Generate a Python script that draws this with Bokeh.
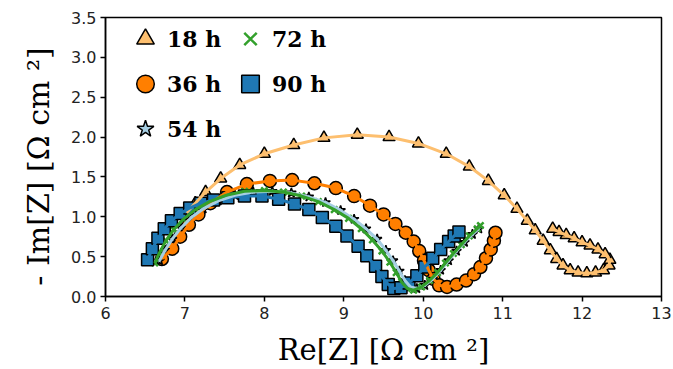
from bokeh.plotting import figure
from bokeh.models import Legend, LegendItem, FixedTicker, NumeralTickFormatter
from bokeh.embed import file_html
from bokeh.resources import INLINE

# ---- data (Re[Z], -Im[Z]) ----
h18_re = [7.02, 7.13, 7.26, 7.45, 7.69, 8.00, 8.37, 8.75, 9.17, 9.57, 9.94, 10.29, 10.58, 10.82,
          11.02, 11.18, 11.31, 11.41, 11.51, 11.60, 11.68, 11.76, 11.85, 11.95, 12.06, 12.17,
          12.27, 12.34, 12.35, 12.29, 12.20, 12.10, 12.00, 11.90, 11.80, 11.71, 11.63]
h18_im = [1.05, 1.17, 1.31, 1.48, 1.65, 1.79, 1.90, 1.99, 2.03, 2.00, 1.92, 1.79, 1.63, 1.45,
          1.27, 1.10, 0.95, 0.83, 0.70, 0.58, 0.47, 0.39, 0.33, 0.30, 0.29, 0.30,
          0.33, 0.39, 0.46, 0.53, 0.59, 0.64, 0.68, 0.73, 0.77, 0.81, 0.85]

h36_re = [6.71, 6.84, 6.94, 7.05, 7.17, 7.32, 7.53, 7.78, 8.07, 8.35, 8.63, 8.90, 9.13, 9.33,
          9.50, 9.65, 9.78, 9.88, 9.95, 10.01, 10.07, 10.13, 10.20, 10.30, 10.42, 10.54, 10.64,
          10.72, 10.79, 10.85, 10.89, 10.91]
h36_im = [0.47, 0.60, 0.75, 0.90, 1.03, 1.17, 1.31, 1.41, 1.45, 1.46, 1.42, 1.36, 1.26, 1.14,
          1.03, 0.91, 0.80, 0.69, 0.57, 0.45, 0.33, 0.22, 0.14, 0.12, 0.15, 0.20, 0.28,
          0.37, 0.48, 0.59, 0.70, 0.80]

h54_re = [6.68, 6.75, 6.84, 6.95, 7.08, 7.23, 7.42, 7.63, 7.86, 8.10, 8.34, 8.56, 8.77, 8.96,
          9.13, 9.28, 9.42, 9.53, 9.62, 9.70, 9.77, 9.84, 9.92, 10.02, 10.12, 10.22, 10.32,
          10.42, 10.52, 10.62, 10.70]
h54_im = [0.45, 0.58, 0.72, 0.86, 0.99, 1.10, 1.20, 1.27, 1.31, 1.32, 1.30, 1.25, 1.18, 1.08,
          0.97, 0.85, 0.72, 0.58, 0.45, 0.32, 0.20, 0.12, 0.10, 0.14, 0.22, 0.33, 0.45,
          0.57, 0.68, 0.78, 0.85]

h72_re = [6.62, 6.68, 6.76, 6.86, 6.98, 7.13, 7.31, 7.52, 7.75, 8.00, 8.24, 8.47, 8.68, 8.88,
          9.06, 9.22, 9.36, 9.48, 9.58, 9.66, 9.73, 9.80, 9.88, 9.98, 10.08, 10.18, 10.28,
          10.38, 10.48, 10.58, 10.68, 10.72]
h72_im = [0.42, 0.55, 0.70, 0.84, 0.97, 1.09, 1.19, 1.27, 1.32, 1.33, 1.31, 1.26, 1.19, 1.09,
          0.98, 0.85, 0.71, 0.57, 0.43, 0.30, 0.18, 0.10, 0.08, 0.12, 0.20, 0.30, 0.42,
          0.54, 0.65, 0.76, 0.85, 0.89]

h90_re = [6.53, 6.59, 6.66, 6.74, 6.83, 6.94, 7.06, 7.20, 7.36, 7.54, 7.75, 7.97, 8.18, 8.38,
          8.56, 8.73, 8.90, 9.04, 9.18, 9.29, 9.40, 9.48, 9.56, 9.63, 9.72, 9.82, 9.92, 10.02,
          10.12, 10.22, 10.32, 10.39, 10.45]
h90_im = [0.46, 0.60, 0.73, 0.85, 0.95, 1.04, 1.11, 1.17, 1.21, 1.24, 1.26, 1.26, 1.22, 1.16,
          1.09, 0.99, 0.88, 0.76, 0.63, 0.51, 0.38, 0.25, 0.15, 0.10, 0.11, 0.17, 0.26, 0.37,
          0.48, 0.59, 0.69, 0.76, 0.81]

labels = ["18 h", "36 h", "54 h", "72 h", "90 h"]
x_ticks = [6, 7, 8, 9, 10, 11, 12, 13]
y_ticks = [0.0, 0.5, 1.0, 1.5, 2.0, 2.5, 3.0, 3.5]

C18, C36, C54, C72, C90 = "#fdbf6f", "#ff7f00", "#a6cee3", "#33a02c", "#1f78b4"

p = figure(width=673, height=369, output_backend="svg", toolbar_location=None,
           x_range=(6, 13), y_range=(0, 3.5),
           min_border_left=105, min_border_right=12, min_border_top=17, min_border_bottom=73)
p.background_fill_color = "white"
p.border_fill_color = "white"
p.xgrid.visible = False
p.ygrid.visible = False
p.outline_line_color = "black"
p.outline_line_width = 1.5
p.outline_line_alpha = 1.0

for ax in (p.xaxis[0], p.yaxis[0]):
    ax.axis_line_width = 1.5
    ax.axis_line_color = "black"
    ax.major_tick_line_color = "black"
    ax.major_tick_line_width = 1.5
    ax.major_tick_out = 5
    ax.major_tick_in = 0
    ax.minor_tick_line_color = None
    ax.major_label_text_font = "DejaVu Sans"
    ax.major_label_text_font_size = "16px"
    ax.major_label_text_color = "#222222"
    ax.axis_label_text_font = "DejaVu Serif"
    ax.axis_label_text_font_style = "normal"
    ax.axis_label_text_color = "black"

p.xaxis[0].axis_label_text_font_size = "29px"
p.yaxis[0].axis_label_text_font_size = "30px"
p.xaxis[0].ticker = FixedTicker(ticks=x_ticks)
p.yaxis[0].ticker = FixedTicker(ticks=y_ticks)
p.xaxis[0].formatter = NumeralTickFormatter(format="0")
p.yaxis[0].formatter = NumeralTickFormatter(format="0.0")
p.xaxis[0].major_label_standoff = 5
p.yaxis[0].major_label_standoff = 4
p.xaxis[0].axis_label = "Re[Z] [Ω cm ²]"
p.yaxis[0].axis_label = "- Im[Z]  [Ω cm  ²]"
p.xaxis[0].axis_label_standoff = 11
p.yaxis[0].axis_label_standoff = 12

# markers
r18 = p.scatter(h18_re, h18_im, marker="triangle", size=12, fill_color=C18,
                line_color="black", line_width=1.5)
r36 = p.scatter(h36_re, h36_im, marker="circle", size=13, fill_color=C36,
                line_color="black", line_width=1.5)
r54 = p.scatter(h54_re, h54_im, marker="star", size=10, fill_color=C54,
                line_color="black", line_width=1.5)
r72 = p.scatter(h72_re, h72_im, marker="x", size=9, line_color=C72, line_width=2.5)
r90 = p.scatter(h90_re, h90_im, marker="square", size=12, fill_color=C90,
                line_color="black", line_width=1.5)

# fit lines
p.line(h18_re, h18_im, line_color=C18, line_width=3)
p.line(h36_re, h36_im, line_color=C36, line_width=3)
p.line(h90_re, h90_im, line_color=C90, line_width=3)
p.line(h54_re, h54_im, line_color=C54, line_width=3)
p.line(h72_re, h72_im, line_color=C72, line_width=3)


def make_legend(items, loc):
    lg = Legend(items=items, location=loc, orientation="vertical",
                glyph_width=44, glyph_height=45, spacing=0, padding=0, margin=0,
                label_standoff=0, label_height=45,
                label_text_font="DejaVu Serif", label_text_font_style="bold",
                label_text_font_size="22px", label_text_color="black",
                border_line_alpha=0, background_fill_alpha=0)
    return lg


leg1 = make_legend([LegendItem(label=labels[0], renderers=[r18]),
                    LegendItem(label=labels[1], renderers=[r36]),
                    LegendItem(label=labels[2], renderers=[r54])], (18, 145))
leg2 = make_legend([LegendItem(label=labels[3], renderers=[r72]),
                    LegendItem(label=labels[4], renderers=[r90])], (123, 190))
p.add_layout(leg1)
p.add_layout(leg2)

open("out.html", "w").write(file_html(p, INLINE))
